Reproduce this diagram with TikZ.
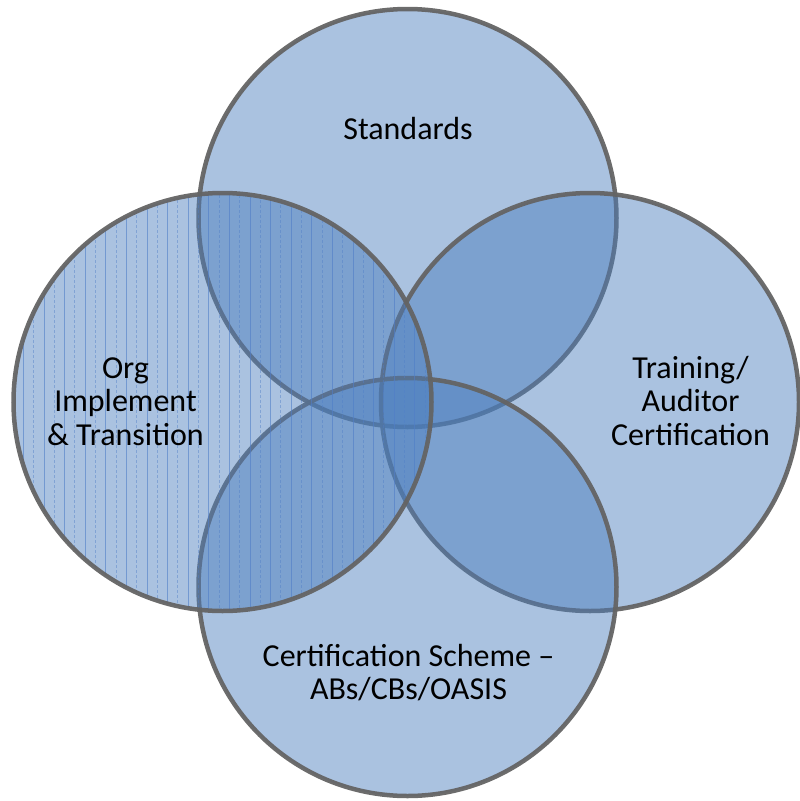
\documentclass[tikz,border=0pt]{standalone}
\usepackage{fontspec}
\setmainfont{Carlito}
\definecolor{vfill}{RGB}{74,125,189}
\definecolor{vline}{RGB}{100,100,100}
\definecolor{stripe}{RGB}{80,125,200}
\tikzset{
  vennfill/.style={fill=vfill, fill opacity=0.47},
  venndraw/.style={draw=vline, draw opacity=0.95, line width=4.5pt},
  vlabel/.style={align=center, font=\fontsize{32}{33.5}\selectfont, text=black, inner sep=0pt, anchor=base},
  stripesolid/.style={draw=stripe, line width=0.9pt, opacity=0.6},
  stripedash/.style={draw=stripe, line width=0.9pt, opacity=0.45, dash pattern=on 3pt off 2pt}
}
\begin{document}
\begin{tikzpicture}[x=1pt,y=-1pt]
\useasboundingbox (0,0) rectangle (800,801);
\coordinate (ct) at (407.5,218);
\coordinate (cr) at (590,402);
\coordinate (cb) at (407.5,587);
\coordinate (cl) at (222.5,402);
% top
\path[vennfill] (ct) circle (209);
\draw[venndraw] (ct) circle (209);
% right
\path[vennfill] (cr) circle (209);
\draw[venndraw] (cr) circle (209);
% bottom
\path[vennfill] (cb) circle (209);
\draw[venndraw] (cb) circle (209);
% left with stripes
\path[vennfill] (cl) circle (209);
\begin{scope}
  \clip (cl) circle (209);
  \foreach \i in {0,...,19} {
    \draw[stripesolid] ({23.4+20.6*\i},180) -- ({23.4+20.6*\i},620);
    \draw[stripedash] ({33.7+20.6*\i},180) -- ({33.7+20.6*\i},620);
  }
\end{scope}
\draw[venndraw] (cl) circle (209);
% labels
\node[vlabel] (standards) at (408,139) {Standards};
\node[vlabel] (org) at (125.5,445) {Org\\Implement\\\& Transition};
\node[vlabel] (training) at (690.5,445) {Training/\\Auditor\\Certification};
\node[vlabel, font=\fontsize{32}{32.5}\selectfont] (scheme) at (408.5,699) {Certification Scheme –\\ABs/CBs/OASIS};
\end{tikzpicture}
\end{document}
